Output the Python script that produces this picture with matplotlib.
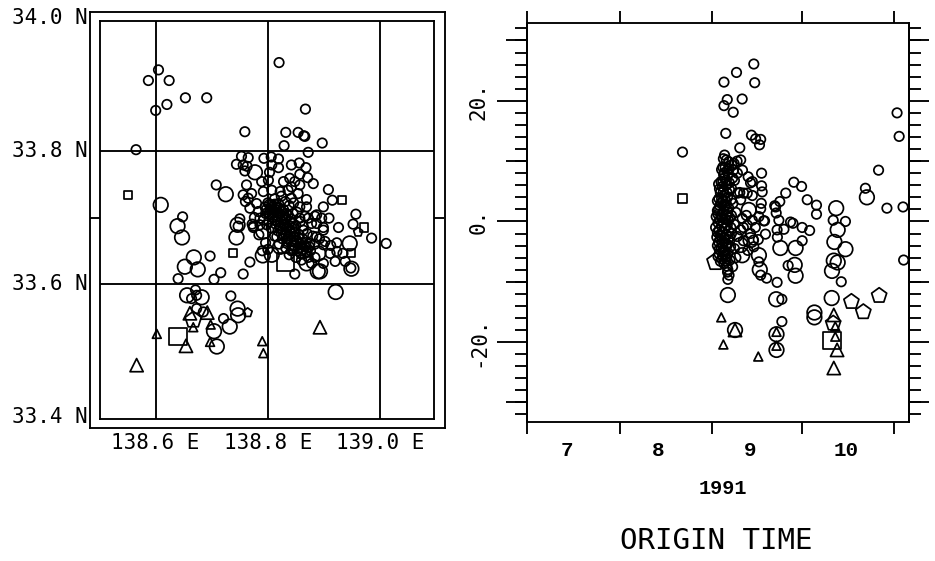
import matplotlib
matplotlib.use('Agg')
import matplotlib.pyplot as plt
import numpy as np

# map panel: (longitude, latitude)
map_small = [
    (138.820, 33.933), (138.605, 33.922), (138.587, 33.906), (138.624, 33.906), (138.653, 33.880),
    (138.691, 33.880), (138.620, 33.870), (138.600, 33.861), (138.867, 33.863), (138.759, 33.829),
    (138.832, 33.828), (138.854, 33.828), (138.866, 33.822), (138.864, 33.823), (138.897, 33.812),
    (138.829, 33.808), (138.872, 33.798), (138.565, 33.802), (138.708, 33.749), (138.648, 33.701),
    (138.753, 33.792), (138.765, 33.790), (138.744, 33.780), (138.756, 33.779), (138.763, 33.777),
    (138.759, 33.770), (138.793, 33.789), (138.806, 33.791), (138.819, 33.788), (138.807, 33.779),
    (138.819, 33.775), (138.803, 33.768), (138.842, 33.779), (138.856, 33.782), (138.868, 33.775),
    (138.857, 33.765), (138.871, 33.760), (138.881, 33.751), (138.762, 33.749), (138.756, 33.734),
    (138.771, 33.736), (138.765, 33.729), (138.789, 33.754), (138.801, 33.756), (138.792, 33.739),
    (138.807, 33.741), (138.822, 33.739), (138.828, 33.754), (138.839, 33.759), (138.848, 33.754),
    (138.842, 33.746), (138.857, 33.749), (138.836, 33.741), (138.854, 33.736), (138.869, 33.727),
    (138.783, 33.709), (138.786, 33.699), (138.795, 33.716), (138.807, 33.719), (138.819, 33.721),
    (138.831, 33.724), (138.842, 33.729), (138.857, 33.716), (138.869, 33.716), (138.825, 33.709),
    (138.804, 33.704), (138.813, 33.696), (138.831, 33.699), (138.845, 33.706), (138.857, 33.699),
    (138.872, 33.699), (138.887, 33.704), (138.887, 33.691), (138.774, 33.685), (138.798, 33.689),
    (138.822, 33.685), (138.845, 33.691), (138.863, 33.687), (138.786, 33.689), (138.810, 33.711),
    (138.780, 33.721), (138.768, 33.714), (138.750, 33.698), (138.908, 33.742), (138.915, 33.726),
    (138.899, 33.716), (138.957, 33.705), (138.952, 33.690), (138.926, 33.685), (138.909, 33.699),
    (138.896, 33.699), (138.884, 33.702), (138.878, 33.691), (138.899, 33.685), (138.747, 33.687),
    (138.774, 33.687), (138.697, 33.642), (138.716, 33.617), (138.704, 33.607), (138.640, 33.608),
    (138.756, 33.615), (138.768, 33.633), (138.985, 33.669), (139.011, 33.661), (138.923, 33.662),
    (138.920, 33.634), (138.938, 33.634), (138.948, 33.624), (138.848, 33.615), (138.911, 33.646),
    (138.899, 33.631), (138.878, 33.631), (138.845, 33.651), (138.816, 33.671), (138.834, 33.661),
    (138.851, 33.666), (138.875, 33.661), (138.899, 33.659), (138.923, 33.649), (138.934, 33.646),
    (138.887, 33.671), (138.863, 33.681), (138.899, 33.681), (138.839, 33.681), (138.671, 33.591),
    (138.664, 33.578), (138.673, 33.583), (138.734, 33.582), (138.721, 33.548), (138.673, 33.563),
    (138.685, 33.558), (138.800, 33.722), (138.812, 33.728), (138.824, 33.732), (138.838, 33.718),
    (138.846, 33.722), (138.852, 33.708), (138.816, 33.716), (138.804, 33.712), (138.796, 33.706),
    (138.808, 33.700), (138.818, 33.706), (138.828, 33.712), (138.836, 33.704), (138.826, 33.698),
    (138.814, 33.690), (138.802, 33.694), (138.792, 33.696), (138.806, 33.684), (138.818, 33.680),
    (138.830, 33.688), (138.840, 33.694), (138.850, 33.688), (138.858, 33.694), (138.866, 33.702),
    (138.824, 33.676), (138.836, 33.672), (138.846, 33.678), (138.856, 33.674), (138.834, 33.664),
    (138.844, 33.658), (138.826, 33.668), (138.812, 33.672), (138.852, 33.664), (138.862, 33.668),
    (138.842, 33.650), (138.854, 33.654), (138.866, 33.656), (138.876, 33.650), (138.870, 33.676),
    (138.880, 33.672), (138.884, 33.660), (138.892, 33.668), (138.902, 33.664), (138.912, 33.658),
    (138.820, 33.660), (138.832, 33.654), (138.838, 33.644), (138.850, 33.640), (138.860, 33.636),
    (138.872, 33.640), (138.884, 33.640), (138.796, 33.662), (138.784, 33.674), (138.790, 33.650),
    (138.800, 33.652), (138.776, 33.700), (138.772, 33.690), (138.760, 33.724),
    (138.797, 33.712), (138.802, 33.706), (138.806, 33.715), (138.811, 33.708), (138.809, 33.700),
    (138.814, 33.712), (138.818, 33.702), (138.816, 33.694), (138.822, 33.706), (138.824, 33.694),
    (138.821, 33.688), (138.827, 33.702), (138.829, 33.690), (138.826, 33.682), (138.832, 33.696),
    (138.834, 33.684), (138.831, 33.676), (138.838, 33.688), (138.840, 33.678), (138.836, 33.668),
    (138.843, 33.684), (138.846, 33.672), (138.842, 33.664), (138.849, 33.678), (138.851, 33.666),
    (138.847, 33.658), (138.855, 33.670), (138.857, 33.660), (138.853, 33.650), (138.861, 33.662),
    (138.863, 33.652), (138.859, 33.645), (138.868, 33.658), (138.870, 33.648), (138.874, 33.656),
    (138.812, 33.720), (138.820, 33.714), (138.803, 33.720), (138.833, 33.706), (138.841, 33.698),
]
map_large = [
    (138.609, 33.719), (138.725, 33.735), (138.639, 33.687), (138.647, 33.670), (138.777, 33.768),
    (138.746, 33.689), (138.744, 33.670), (138.668, 33.640), (138.652, 33.626), (138.675, 33.622),
    (138.791, 33.643), (138.946, 33.661), (138.949, 33.623), (138.893, 33.619), (138.889, 33.619),
    (138.869, 33.631), (138.921, 33.588), (138.890, 33.646), (138.863, 33.649), (138.822, 33.656),
    (138.807, 33.644), (138.792, 33.679), (138.656, 33.583), (138.682, 33.580), (138.746, 33.563),
    (138.747, 33.553), (138.732, 33.536), (138.704, 33.529), (138.709, 33.506),
]
map_small_square = [
    (138.551, 33.734), (138.933, 33.726), (138.972, 33.685), (138.738, 33.646), (138.949, 33.646),
]
map_big_square = [(138.640, 33.521), (138.831, 33.633)]
map_small_pent = [(138.961, 33.678), (138.764, 33.557)]
map_pent = [(138.667, 33.546)]
map_small_tri = [
    (138.602, 33.525), (138.667, 33.535), (138.698, 33.539), (138.697, 33.513), (138.790, 33.514),
    (138.792, 33.496),
]
map_tri = [
    (138.566, 33.478), (138.661, 33.556), (138.692, 33.557), (138.654, 33.507), (138.893, 33.535),
]

# time panel: (days after 1 July 1991, value)
time_small = [
    (76.0, 26.1), (70.2, 24.7), (76.3, 23.0), (66.0, 23.1), (67.1, 20.2), (72.1, 20.3), (66.0, 19.2),
    (69.1, 18.1), (124.0, 18.0), (124.7, 14.1), (66.6, 14.6), (75.2, 14.3), (76.6, 13.7), (78.3, 13.6),
    (77.9, 12.7), (71.3, 12.2), (52.1, 11.5), (66.2, 11.0), (78.6, 8.0), (117.8, 8.5), (89.4, 6.5),
    (92.0, 5.8), (86.7, 4.7), (113.4, 5.5), (93.9, 3.6), (97.0, 2.7), (97.0, 1.2), (84.7, 3.3),
    (83.0, 2.6), (83.5, 1.4), (102.6, 0.2), (106.7, 0.0), (120.6, 2.2), (126.0, 2.4), (74.1, 7.4),
    (75.5, 6.6), (78.6, 5.9), (78.8, 4.9), (78.5, 3.0), (78.3, 2.1), (79.6, 0.1), (71.3, 4.8),
    (73.8, 4.7), (75.5, 4.3), (71.6, 3.6), (72.1, 0.5), (73.8, -0.6), (75.5, 0.2), (77.7, 0.8),
    (88.3, -0.1), (89.1, -0.3), (92.2, -1.0), (94.7, -1.5), (86.1, -1.3), (83.8, -1.4), (79.9, -2.1),
    (84.4, 0.2), (71.6, -1.4), (74.9, -2.0), (126.2, -6.4), (92.2, -3.2), (105.3, -10.0), (87.5, -7.3),
    (83.8, -10.1), (85.4, -12.9), (85.4, -16.6), (77.7, -6.7), (78.3, -8.9), (80.3, -9.4), (67.3, -8.0),
    (67.7, -8.9), (67.3, -9.6), (67.6, 9.9), (65.6, 9.0), (69.2, 8.5), (72.2, 8.5), (71.6, 10.2),
    (65.9, 7.7), (68.9, 7.2), (74.9, 6.4), (70.6, 4.7), (72.6, 4.7), (83.3, 2.4), (79.3, 0.1),
    (75.9, -3.1), (83.9, -2.6), (67.2, -8.4), (68.9, -7.5), (69.0, 3.0), (70.0, 1.5), (69.5, -0.5),
    (70.5, -2.5), (72.5, -1.0), (73.5, 1.0), (76.5, -1.0), (77.5, -3.0), (72.5, -3.2), (69.5, -4.5),
    (70.0, -6.0), (74.0, -4.8), (76.0, -4.2), (68.5, 5.5), (69.5, 6.8), (70.5, 8.0), (68.5, -2.0),
    (68.5, 1.0), (64.2, 6.2), (65.5, 5.8), (66.8, 6.0), (67.9, 5.2), (64.8, 4.8), (66.1, 4.4),
    (67.2, 4.0), (68.4, 3.6), (63.8, 3.4), (65.0, 3.0), (66.4, 2.6), (67.6, 2.2), (64.2, 2.0),
    (65.6, 1.4), (66.9, 1.0), (68.0, 0.6), (63.4, 0.8), (64.6, 0.2), (65.8, -0.2), (67.1, -0.6),
    (68.3, -1.0), (63.2, -1.0), (64.4, -1.4), (65.6, -1.8), (66.8, -2.2), (68.0, -2.6), (63.6, -2.6),
    (64.8, -3.0), (66.0, -3.4), (67.2, -3.8), (68.2, -4.2), (63.8, -4.0), (65.0, -4.4), (66.2, -4.8),
    (67.4, -5.2), (64.4, -5.4), (65.6, -5.8), (66.8, -6.2), (68.0, -6.4), (64.8, -6.6), (66.0, -7.0),
    (67.0, -7.4), (65.2, 0.6), (66.2, -1.2), (64.6, -2.2), (65.4, -3.6), (66.4, -5.6), (65.2, 3.8),
    (66.6, 3.4), (64.0, 1.2), (65.0, 6.6), (66.2, 7.2), (67.4, 7.8), (65.2, 8.6), (66.4, 9.0),
    (67.6, 8.8), (68.6, 9.4), (66.8, 10.2), (65.8, 10.4), (69.4, 9.6), (70.4, 10.0),
    (64.5, 5.4), (65.8, 5.0), (67.0, 4.8), (64.3, 3.8), (65.6, 3.4), (66.9, 2.8), (64.6, 2.6),
    (66.0, 1.8), (67.2, 1.6), (63.8, 1.8), (65.0, 1.0), (66.3, 0.4), (67.5, 0.2), (64.0, -0.2),
    (65.2, -0.8), (66.5, -1.0), (67.6, -1.6), (63.8, -1.8), (65.0, -2.4), (66.2, -2.8), (67.4, -3.0),
    (64.2, -3.4), (65.6, -4.2), (66.8, -4.0), (64.4, -4.6), (65.8, -5.0), (67.0, -5.8), (65.2, -6.2),
    (66.4, -6.6), (64.0, -5.8), (66.0, 8.0), (67.0, 8.4), (65.6, 6.6), (66.8, 6.8), (67.8, 6.4),
]
time_large = [
    (113.9, 4.0), (103.6, 2.2), (104.1, -1.4), (74.3, 1.9), (84.9, -4.4), (90.0, -4.4), (103.0, -3.4),
    (106.7, -4.6), (102.8, -6.5), (104.1, -6.8), (102.2, -8.2), (89.7, -7.2), (90.0, -9.0), (67.3, -12.2),
    (83.5, -12.9), (102.1, -12.7), (83.6, -18.7), (83.6, -21.3), (69.7, -18.0), (96.3, -15.1), (96.3, -15.9),
    (77.7, -5.6), (78.0, -8.0), (72.1, -5.6), (74.9, -3.1), (71.6, -3.9),
]
time_small_square = [(52.1, 3.8)]
time_big_square = [(102.2, -19.7)]
time_pent = [(118.0, -12.3), (108.7, -13.3), (112.7, -15.0), (102.6, -16.9)]
time_big_pent = [(63.2, -6.7)]
time_small_tri = [
    (65.1, -15.9), (65.8, -20.4), (77.5, -22.4), (83.6, -18.3), (83.6, -20.6), (103.3, -17.4), (103.3, -19.1),
]
time_tri = [(69.7, -18.0), (102.8, -15.5), (103.9, -21.3), (102.8, -24.3)]

lat_ticks = [34.0, 33.8, 33.6, 33.4]
lat_labels = ['34.0 N', '33.8 N', '33.6 N', '33.4 N']
lat_grid = [33.6, 33.8]
lon_grid = [138.6, 138.8, 139.0]
lon_labels = ['138.6 E', '138.8 E', '139.0 E']

month_starts = [0, 31, 62, 92, 123]
month_pos = [13.4, 44.1, 74.6, 107.0]
month_labels = ['7', '8', '9', '10']

LW = 1.35
W, H = 935, 561
FUENTE = 'DejaVu Sans Mono'
NEGRITA = 'Liberation Mono'


def puntos(ax, datos, marker, size):
    x, y = np.array(datos).T
    ax.scatter(x, y, s=size, marker=marker, facecolors='none', edgecolors='black', linewidths=1.25, clip_on=False, zorder=3)


def caja(x0, y0, x1, y1):
    return [x0 / W, 1 - y1 / H, (x1 - x0) / W, (y1 - y0) / H]


fig = plt.figure(figsize=(W / 100, H / 100), dpi=100)

# outer frame of the map
marco = fig.add_axes(caja(90, 12, 445, 428))
marco.set_xticks([])
marco.set_yticks([])
for s in marco.spines.values():
    s.set_linewidth(LW)

ax = fig.add_axes(caja(100, 21, 434, 419))
ax.patch.set_alpha(0)
ax.set_xlim(138.5007, 139.0963)
ax.set_ylim(33.397, 33.9955)
for v in lon_grid:
    ax.axvline(v, color='black', lw=LW)
for v in lat_grid:
    ax.axhline(v, color='black', lw=LW)
ax.set_xticks(lon_grid)
ax.set_xticklabels(lon_labels, fontsize=15, family=FUENTE)
ax.tick_params(axis='x', which='major', length=0, pad=10)
ax.set_xticks([138.8], minor=True)
ax.set_yticks([])
ax.set_yticks([33.7], minor=True)
ax.tick_params(which='minor', length=7, width=LW, top=True, bottom=True, left=True, right=True)
ax.xaxis.set_minor_formatter(plt.NullFormatter())
ax.yaxis.set_minor_formatter(plt.NullFormatter())
for v, t in zip(lat_ticks, lat_labels):
    ax.text(-0.036, v, t, transform=ax.get_yaxis_transform(), ha='right', va='center', fontsize=15, family=FUENTE)
for s in ax.spines.values():
    s.set_linewidth(LW)

puntos(ax, map_small, 'o', 46)
puntos(ax, map_large, 'o', 110)
puntos(ax, map_small_square, 's', 34)
puntos(ax, map_big_square, 's', 155)
puntos(ax, map_small_pent, 'p', 46)
puntos(ax, map_pent, 'p', 150)
puntos(ax, map_small_tri, '^', 40)
puntos(ax, map_tri, '^', 90)

# time panel
ax2 = fig.add_axes(caja(527, 23, 909, 422))
ax2.set_xlim(0.3, 128.0)
ax2.set_ylim(-33.25, 32.9)
for s in ax2.spines.values():
    s.set_linewidth(LW)

ax2.set_xticks(month_starts)
ax2.set_xticklabels([])
ax2.tick_params(axis='x', which='major', length=8.6, width=LW, top=True, bottom=True)
ax2.set_xticks(month_pos, minor=True)
ax2.set_xticklabels(month_labels, minor=True, fontsize=15, family=NEGRITA, fontweight='bold')
ax2.tick_params(axis='x', which='minor', length=0, pad=14)

ax2.set_yticks([-20, 0, 20])
ax2.set_yticklabels(['-20.', '0.', '20.'], fontsize=15, family=FUENTE, rotation=90, va='center')
ax2.tick_params(axis='y', which='major', length=21.6, width=LW, pad=6)
ax2.set_yticks(np.arange(-32, 33, 2), minor=True)
ax2.tick_params(axis='y', which='minor', length=8.6, width=LW, left=True, right=True)

izq = ax2.secondary_yaxis('left')
izq.set_yticks([-30, -10, 10, 30])
izq.set_yticklabels([])
izq.tick_params(length=15, width=LW)
izq.spines['left'].set_linewidth(LW)
der = ax2.secondary_yaxis('right')
der.set_yticks(np.arange(-30, 31, 10))
der.set_yticklabels([])
der.tick_params(length=14.5, width=LW)
der.spines['right'].set_linewidth(LW)

puntos(ax2, time_small, 'o', 46)
puntos(ax2, time_large, 'o', 110)
puntos(ax2, time_small_square, 's', 34)
puntos(ax2, time_big_square, 's', 150)
puntos(ax2, time_pent, 'p', 130)
puntos(ax2, time_big_pent, 'p', 170)
puntos(ax2, time_small_tri, '^', 40)
puntos(ax2, time_tri, '^', 90)

fig.text(723 / W, 1 - 489 / H, '1991', ha='center', va='center', fontsize=14.5, family=NEGRITA, fontweight='bold')
fig.text(716 / W, 1 - 541 / H, 'ORIGIN TIME', ha='center', va='center', fontsize=21, family=FUENTE)

fig.savefig('out.png', dpi=100)
